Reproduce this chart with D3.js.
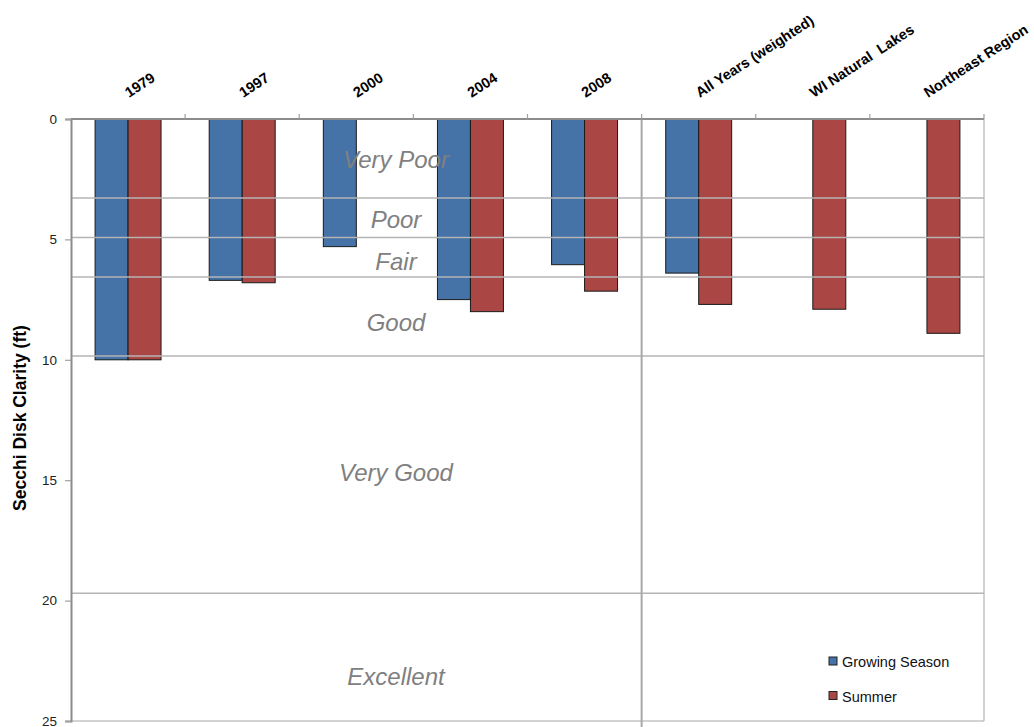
<!DOCTYPE html>
<html>
<head>
<meta charset="utf-8">
<script src="https://cdn.jsdelivr.net/npm/d3@7"></script>
<style>
  html, body { margin: 0; padding: 0; background: #fff; }
  svg { display: block; font-family: Arial, "Liberation Sans", sans-serif; }
</style>
</head>
<body>
<svg id="chart" width="1034" height="727"></svg>
<script>
// ---- data ----
const categories = ["1979", "1997", "2000", "2004", "2008", "All Years (weighted)", "WI Natural  Lakes", "Northeast Region"];
const seriesNames = ["Growing Season", "Summer"];
const growingSeason = [10.0, 6.7, 5.3, 7.5, 6.05, 6.4, null, null];
const summer = [10.0, 6.8, null, 8.0, 7.15, 7.7, 7.9, 8.9];
const yTicks = [0, 5, 10, 15, 20, 25];
const zoneBreaks = [3.28, 4.92, 6.56, 9.84, 19.69];
const zoneNames = ["Very Poor", "Poor", "Fair", "Good", "Very Good", "Excellent"];
const zoneLabelDepth = [2.03, 4.53, 6.27, 8.8, 15.03, 23.5];
const colors = ["#4572A7", "#AA4643"];

// ---- layout ----
const svg = d3.select("#chart");
const plotLeft = 71, plotRight = 984, plotTop = 119, plotBottom = 721;

const x = d3.scaleBand().domain(categories).range([plotLeft, plotRight]).paddingInner(0).paddingOuter(0);
const xs = d3.scaleBand().domain(seriesNames).range([0, x.bandwidth()]).paddingInner(0).paddingOuter(0.73);
const y = d3.scaleLinear().domain([0, 25]).range([plotTop, plotBottom]);

// bars
const seriesData = [growingSeason, summer];
seriesData.forEach((vals, si) => {
  svg.append("g").selectAll("rect")
    .data(categories.map((c, i) => ({ c, v: vals[i] })).filter(d => d.v != null))
    .join("rect")
    .attr("x", d => x(d.c) + xs(seriesNames[si]))
    .attr("y", y(0))
    .attr("width", xs.bandwidth())
    .attr("height", d => y(d.v) - y(0))
    .attr("fill", colors[si])
    .attr("stroke", "#1a1a1a")
    .attr("stroke-width", 1);
});

// zone gridlines (over bars)
svg.append("g").selectAll("line")
  .data(zoneBreaks)
  .join("line")
  .attr("x1", plotLeft).attr("x2", plotRight)
  .attr("y1", d => y(d)).attr("y2", d => y(d))
  .attr("stroke", "#b4b4b4").attr("stroke-width", 1.5);

// bottom and right border
svg.append("line").attr("x1", plotLeft).attr("x2", plotRight).attr("y1", y(25)).attr("y2", y(25))
  .attr("stroke", "#c4c4c4").attr("stroke-width", 1.5);
svg.append("line").attr("x1", plotRight).attr("x2", plotRight).attr("y1", plotTop).attr("y2", plotBottom)
  .attr("stroke", "#b4b4b4").attr("stroke-width", 1.2);
// separator between years and summaries
svg.append("line")
  .attr("x1", x(categories[5])).attr("x2", x(categories[5]))
  .attr("y1", plotTop).attr("y2", plotBottom + 6)
  .attr("stroke", "#a8a8a8").attr("stroke-width", 2);

// zone labels
svg.append("g").selectAll("text")
  .data(zoneNames)
  .join("text")
  .attr("x", 396)
  .attr("y", (d, i) => y(zoneLabelDepth[i]))
  .attr("text-anchor", "middle")
  .attr("font-style", "italic")
  .attr("font-size", 24)
  .attr("fill", "#808080")
  .text(d => d);

// top x axis
const xAxis = svg.append("g").attr("transform", `translate(0,${plotTop})`);
xAxis.append("line").attr("x1", plotLeft).attr("x2", plotRight).attr("y1", 0).attr("y2", 0)
  .attr("stroke", "#8c8c8c").attr("stroke-width", 2);
const tickPositions = categories.slice(1).map(c => x(c)).concat([plotRight]);
xAxis.selectAll("line.tick")
  .data(tickPositions)
  .join("line")
  .attr("class", "tick")
  .attr("x1", d => d).attr("x2", d => d)
  .attr("y1", -5).attr("y2", 0)
  .attr("stroke", "#a0a0a0").attr("stroke-width", 1.2);
xAxis.selectAll("text")
  .data(categories)
  .join("text")
  .attr("transform", d => `translate(${x(d) + x.bandwidth() / 2 + 1},${-21}) rotate(-33)`)
  .attr("font-size", 14.5)
  .attr("font-weight", "bold")
  .attr("fill", "#000")
  .style("white-space", "pre")
  .text(d => d);

// left y axis
const yAxis = svg.append("g").attr("transform", `translate(${plotLeft},0)`)
  .call(d3.axisLeft(y).tickValues(yTicks).tickSize(6).tickPadding(8).tickFormat(d3.format("d")));
yAxis.select(".domain").attr("stroke", "#8c8c8c").attr("stroke-width", 2);
yAxis.selectAll(".tick line").attr("stroke", "#a0a0a0").attr("stroke-width", 1.2);
yAxis.selectAll(".tick text").attr("font-size", 13.5).attr("fill", "#222")
  .attr("font-family", "Arial, 'Liberation Sans', sans-serif");

// y title
svg.append("text")
  .attr("transform", `translate(26,418) rotate(-90)`)
  .attr("text-anchor", "middle")
  .attr("font-size", 17.5)
  .attr("font-weight", "bold")
  .attr("fill", "#000")
  .text("Secchi Disk Clarity (ft)");

// legend
const legend = svg.append("g").attr("transform", "translate(829,657)");
seriesNames.forEach((name, i) => {
  const g = legend.append("g").attr("transform", `translate(0,${i * 34.5})`);
  g.append("rect").attr("x", 0).attr("y", 0).attr("width", 8).attr("height", 8)
    .attr("fill", colors[i]).attr("stroke", "#222").attr("stroke-width", 1);
  g.append("text").attr("x", 13).attr("y", 10).attr("font-size", 14.5).attr("fill", "#111").text(name);
});
</script>
</body>
</html>
